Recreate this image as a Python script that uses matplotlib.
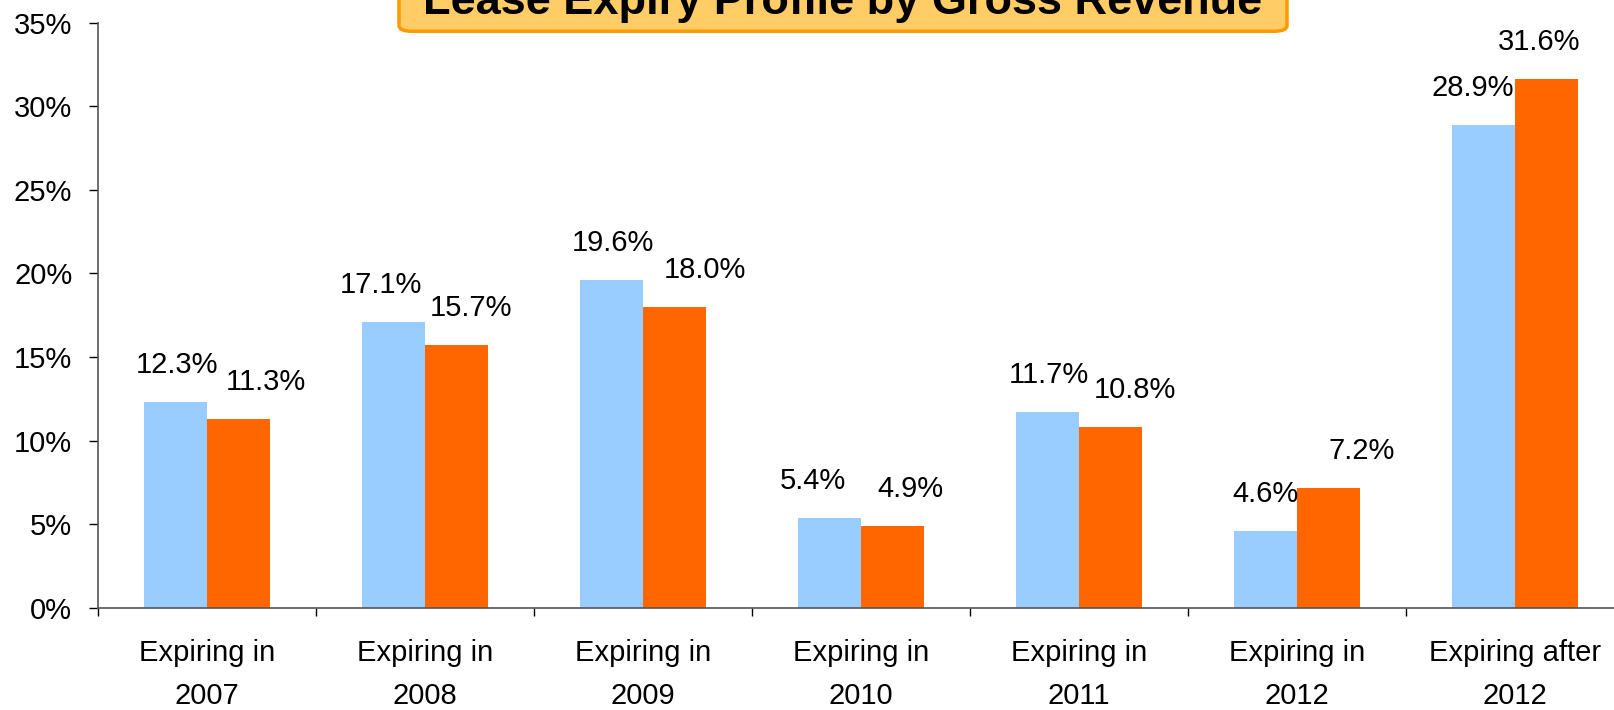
import matplotlib.pyplot as plt
from matplotlib.patches import FancyBboxPatch
from matplotlib.ticker import FuncFormatter, FixedLocator
import numpy as np

plt.rcParams['font.family'] = ['Liberation Sans', 'DejaVu Sans']

# Data
categories = ['Expiring in\n2007', 'Expiring in\n2008', 'Expiring in\n2009', 'Expiring in\n2010',
              'Expiring in\n2011', 'Expiring in\n2012', 'Expiring after\n2012']
series_a = [12.3, 17.1, 19.6, 5.4, 11.7, 4.6, 28.9]   # light blue
series_b = [11.3, 15.7, 18.0, 4.9, 10.8, 7.2, 31.6]   # orange

# label nudges (pixels), the labels in the original sit a bit irregularly
dx_a = [2, -12, 2, -16, 1, 0, -11]
dx_b = [27, 14, 30, 18, 24, 33, -7]

blue = '#99CCFF'
orange = '#FF6600'
fs = 21

fig = plt.figure(figsize=(16.14, 7.10), dpi=100)
ax = fig.add_axes([0.0607, 0.1437, 0.9455, 0.8245])

x = np.arange(len(categories))
w = 0.29
bars_a = ax.bar(x - w / 2, series_a, w, color=blue, zorder=2)
bars_b = ax.bar(x + w / 2, series_b, w, color=orange, zorder=2)

for bars, vals, dx in [(bars_a, series_a, dx_a), (bars_b, series_b, dx_b)]:
    for b, v, d in zip(bars, vals, dx):
        ax.annotate(f'{v:.1f}%', (b.get_x() + b.get_width() / 2, v),
                    xytext=(d, 37), textcoords='offset pixels',
                    ha='center', va='center', fontsize=fs)

ax.set_xlim(-0.5, len(categories) - 0.5)
ax.set_ylim(0, 35)
ax.set_yticks(np.arange(0, 36, 5))
ax.yaxis.set_major_formatter(FuncFormatter(lambda v, p: f'{v:.0f}%'))
ax.tick_params(axis='y', labelsize=fs, length=6.5, width=1, pad=12, direction='out')

ax.set_xticks(x)
ax.set_xticklabels(categories, fontsize=fs, linespacing=1.7)
ax.tick_params(axis='x', length=0, pad=22)
ax.xaxis.set_minor_locator(FixedLocator(np.arange(-0.5, len(categories), 1)))
ax.tick_params(axis='x', which='minor', length=6, width=1, direction='out')

for s in ['top', 'right']:
    ax.spines[s].set_visible(False)
for s in ['left', 'bottom']:
    ax.spines[s].set_color('#555555')
    ax.spines[s].set_linewidth(1.2)

# title box, partly cut off at the top
fig.text(0.5223, 0.9803, 'Lease Expiry Profile by Gross Revenue',
         ha='center', va='baseline', fontsize=32.5, fontweight='bold', zorder=5)
box = FancyBboxPatch((0.2472, 0.956), 0.5502, 0.08,
                     boxstyle='round,pad=0,rounding_size=0.008',
                     transform=fig.transFigure, facecolor='#FFCC66',
                     edgecolor='#FF9900', linewidth=2.5, zorder=4)
fig.patches.append(box)

fig.savefig('out.png', dpi=100)
